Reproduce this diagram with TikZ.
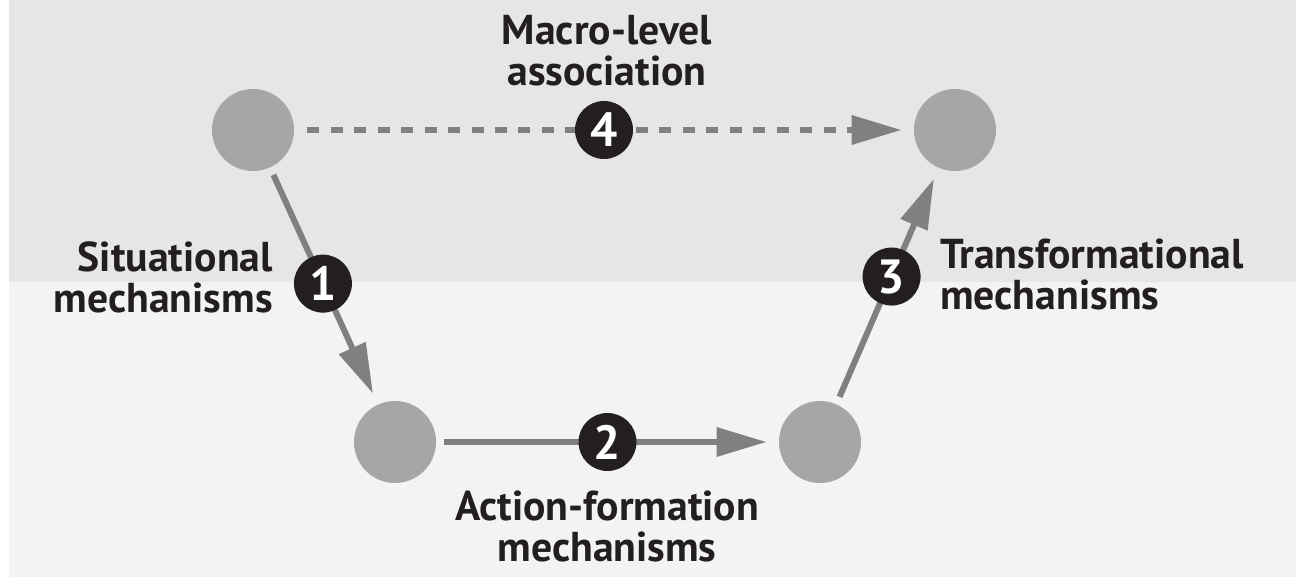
\documentclass[tikz,border=0pt]{standalone}
\usepackage{fontspec}
\setmainfont{PT Sans}
\usetikzlibrary{arrows.meta}
\definecolor{bandtop}{HTML}{E6E6E6}
\definecolor{bandlow}{HTML}{F3F3F3}
\definecolor{dotgray}{HTML}{A6A6A6}
\definecolor{arrowgray}{HTML}{808080}
\definecolor{inkblack}{HTML}{231F20}

\begin{document}
\begin{tikzpicture}[x=0.75pt,y=-0.75pt,>={Triangle[length=37.5pt,width=21pt]},
  dot/.style={circle,fill=dotgray,minimum size=61.5pt,inner sep=0pt},
  badge/.style={circle,fill=inkblack,text=white,minimum size=43.5pt,inner sep=0pt,font=\fontsize{36}{36}\selectfont\bfseries},
  lbl/.style={text=inkblack,font=\fontsize{31.3}{30.75}\selectfont\bfseries,inner sep=0pt},
  link/.style={->,draw=arrowgray,line width=4.5pt,shorten <=6pt,shorten >=9pt}]
\useasboundingbox (0,0) rectangle (1313,577);
% the two levels
\fill[bandtop] (9,0) rectangle (1296,282);
\fill[bandlow] (9,282) rectangle (1296,577);
\node[dot] (macroL) at (253,130) {};
\node[dot] (macroR) at (955,130) {};
\node[dot] (microL) at (395,442) {};
\node[dot] (microR) at (820,442) {};
\draw[link] (macroL) -- (microL) node[badge,pos=0.49]{1};
\draw[link] (microL) -- (microR) node[badge,pos=0.5]{2};
\draw[link] (microR) -- (macroR) node[badge,pos=0.54]{3};
\draw[link,line width=4.9pt,dash pattern=on 9pt off 8.6pt,shorten <=9.75pt] (macroL) -- (macroR) node[badge,pos=0.5]{4};
% labels (base = last line)
\node[lbl,align=center,anchor=base] (macroTxt) at (607,86) {Macro-level\\association};
\node[lbl,align=right,anchor=base east] (sitTxt) at (273,312) {Situational\\mechanisms};
\node[lbl,align=left,anchor=base west] (trTxt) at (940,310) {Transformational\\mechanisms};
\node[lbl,align=center,anchor=base] (actTxt) at (607,561) {Action-formation\\mechanisms};
\end{tikzpicture}
\end{document}
